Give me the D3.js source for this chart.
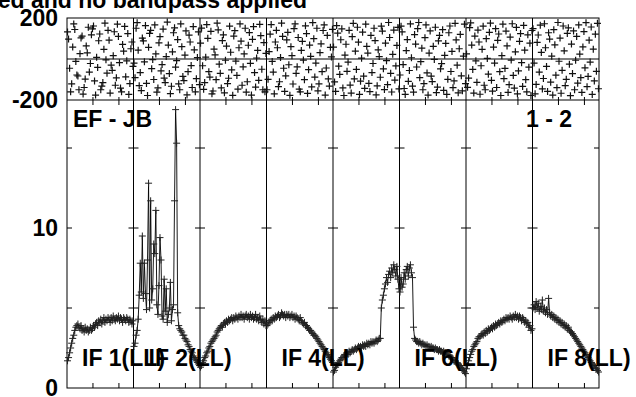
<!DOCTYPE html>
<html>
<head>
<meta charset="utf-8">
<script src="https://cdn.jsdelivr.net/npm/d3@7"></script>
<style>
  body { margin: 0; background: #fff; }
  svg text { font-family: "Liberation Sans", Arial, Helvetica, sans-serif; font-weight: bold; font-size: 23px; fill: #000; }
</style>
</head>
<body>
<div id="chart"></div>
<script>
// IF names, one panel per IF
const ifNames = ["IF 1", "IF 2", "IF 3", "IF 4", "IF 5", "IF 6", "IF 7", "IF 8"];
// the labels that are visible in the plot (others are overwritten)
const ifLabels = [
  {panel: "IF 1", text: "IF 1(LL)"},
  {panel: "IF 2", text: "IF 2(LL)"},
  {panel: "IF 4", text: "IF 4(LL)"},
  {panel: "IF 6", text: "IF 6(LL)"},
  {panel: "IF 8", text: "IF 8(LL)"}
];
const nChan = 64;
const chanTicks = [25, 50];
const ampTicks = [5, 10, 15];
const ampLabels = [0, 10];
const phaseLabels = [200, -200];
const baselineName = "EF - JB";
const stokesName = "1 - 2";
const titleText = "ed and no bandpass applied";

// amplitude per channel, one array per IF
const amp1 = [1.7,1.9,2.2,2.5,2.8,3.1,3.3,3.6,3.8,3.9,4.0,3.8,3.7,3.9,3.6,3.7,3.5,3.8,3.6,3.7,3.5,3.6,3.8,3.6,3.7,3.9,3.8,4.0,4.1,3.9,4.2,4.1,4.3,4.0,4.2,4.4,4.1,4.3,4.2,4.4,4.3,4.1,4.4,4.2,4.5,4.3,4.2,4.4,4.3,4.5,4.2,4.4,4.3,4.1,4.4,4.3,4.2,4.4,4.3,4.1,4.3,4.2,4.0,4.2];
const amp2 = [2.6,2.8,3.3,3.6,4.3,5.8,7.8,6.0,9.5,5.6,7.8,5.9,4.9,8.0,12.8,5.0,11.7,5.5,6.2,9.0,8.4,11.1,5.2,4.6,6.4,9.4,8.0,4.5,4.3,6.8,4.8,6.2,4.1,4.6,5.0,6.6,4.2,4.9,5.2,11.7,17.4,15.3,4.7,3.9,3.7,3.6,3.5,3.3,3.3,3.1,3.0,2.9,2.7,2.6,2.4,2.3,2.2,2.0,1.9,1.8,1.7,1.6,1.5,1.4];
const amp3 = [1.3,1.4,1.6,1.7,1.9,2.0,2.2,2.3,2.5,2.6,2.8,2.9,3.0,3.1,3.2,3.3,3.5,3.6,3.7,3.8,3.9,3.8,4.0,4.1,4.0,4.2,4.1,4.3,4.2,4.3,4.4,4.2,4.4,4.3,4.5,4.4,4.3,4.5,4.4,4.6,4.4,4.5,4.3,4.5,4.6,4.4,4.5,4.3,4.6,4.4,4.5,4.3,4.4,4.6,4.3,4.4,4.2,4.5,4.3,4.1,4.3,4.0,4.2,3.9];
const amp4 = [3.9,4.0,4.1,4.2,4.3,4.2,4.4,4.3,4.5,4.4,4.5,4.6,4.4,4.5,4.7,4.6,4.5,4.6,4.4,4.6,4.5,4.6,4.4,4.5,4.6,4.4,4.5,4.3,4.5,4.4,4.3,4.2,4.4,4.2,4.1,4.0,4.1,3.9,3.9,3.8,3.7,3.6,3.6,3.5,3.4,3.3,3.3,3.2,3.1,3.0,2.9,2.8,2.7,2.6,2.5,2.4,2.3,2.2,2.1,2.0,1.9,1.8,1.7,1.6];
const amp5 = [1.0,1.1,1.3,1.4,1.5,1.6,1.7,1.8,1.9,1.9,2.0,2.1,2.0,2.2,2.1,2.3,2.2,2.3,2.4,2.3,2.4,2.5,2.4,2.5,2.6,2.5,2.6,2.5,2.7,2.6,2.7,2.6,2.8,2.7,2.8,2.7,2.9,2.8,2.9,2.8,2.9,3.0,2.9,3.0,3.1,3.1,5.0,5.5,5.8,6.2,6.5,6.9,6.6,7.1,7.3,6.9,7.5,7.2,7.7,7.4,7.0,7.6,6.8,6.2];
const amp6 = [6.0,6.9,6.3,6.5,7.2,6.8,7.4,7.6,7.0,7.5,7.7,7.2,6.9,3.8,3.1,3.0,2.9,2.9,2.8,2.9,2.8,2.7,2.8,2.7,2.7,2.6,2.7,2.6,2.6,2.5,2.6,2.5,2.5,2.4,2.5,2.4,2.4,2.3,2.4,2.3,2.3,2.2,2.3,2.2,2.2,2.1,2.1,2.0,2.0,1.9,1.9,1.8,1.7,1.7,1.6,1.5,1.5,1.4,1.4,1.3,1.2,1.1,1.0,0.9];
const amp7 = [1.2,1.4,1.7,1.9,2.1,2.3,2.4,2.6,2.7,2.8,2.9,3.1,3.2,3.2,3.3,3.4,3.3,3.5,3.4,3.6,3.5,3.7,3.6,3.7,3.8,3.7,3.9,3.8,4.0,3.9,4.0,4.1,4.0,4.2,4.1,4.2,4.3,4.2,4.4,4.3,4.4,4.3,4.5,4.4,4.3,4.5,4.4,4.6,4.4,4.5,4.3,4.5,4.4,4.2,4.4,4.3,4.1,4.2,4.0,4.1,3.8,3.9,3.6,3.7];
const amp8 = [5.0,5.2,4.9,5.4,5.0,5.3,4.8,5.1,4.9,5.5,4.8,5.0,4.7,4.9,4.6,5.6,4.7,4.5,4.6,4.4,4.5,4.3,4.4,4.2,4.3,4.1,4.2,4.0,4.1,3.9,4.0,3.8,3.9,3.7,3.8,3.6,3.5,3.5,3.4,3.3,3.2,3.1,3.0,2.9,2.8,2.7,2.6,2.5,2.4,2.3,2.2,2.1,2.0,1.9,1.8,1.7,1.6,1.5,1.4,1.4,1.3,1.2,1.1,1.0];

// phase (degrees) per channel, one array per IF
const ph1 = [132,97,-45,-160,-121,58,171,144,-12,-78,-83,-150,26,103,112,-171,-139,-98,64,30,155,-64,-22,118,147,161,-107,-176,8,-41,89,122,-150,-132,-115,47,175,-4,-69,140,92,-166,-30,-55,16,133,-128,-92,170,110,-18,-142,-160,71,38,159,-87,-9,124,-173,-120,50,83,-36];
const ph2 = [-20,-91,150,177,43,-130,-66,-154,102,88,-14,163,-119,-178,57,125,140,-47,-3,-100,166,25,-162,-141,79,109,-58,-27,146,-93,-115,12,180,68,-71,-169,-133,35,128,152,-40,-8,95,-121,-150,171,60,-85,-105,19,137,-175,-62,116,83,-32,-139,158,45,-160,-96,7,132,-125];
const ph3 = [77,151,-33,-148,-115,9,168,101,-62,-88,135,-170,-156,48,20,-101,175,142,-25,-70,-141,90,118,-165,-6,63,-120,-94,160,33,-53,-177,112,138,-10,-80,-147,55,171,87,-128,-38,25,150,-162,-111,67,129,-21,-176,96,158,-66,-137,5,42,-104,169,114,-50,-150,80,-160,27];
const ph4 = [-150,-99,36,121,168,-12,-64,-170,83,140,55,-135,-111,7,175,110,-45,-158,-82,93,130,-28,-177,60,16,-122,148,171,-70,-38,105,-147,-160,42,86,-5,-101,162,124,-168,-52,68,13,-136,177,99,-88,-20,150,-155,-121,31,74,-62,139,166,-176,-44,115,-97,-132,57,10,145];
const ph5 = [58,-112,-158,163,126,-35,-75,94,147,-141,-178,19,72,-60,-15,140,-127,-166,109,174,-97,38,-51,155,82,-173,-108,4,131,-84,-143,170,62,29,-119,-159,115,-66,-22,150,90,-175,-131,45,12,-89,160,136,-48,-149,77,-8,-125,178,105,-70,-161,23,141,-103,-34,66,154,-146];
const ph6 = [-78,160,132,-27,-144,-173,41,95,-109,-56,171,6,-132,-162,119,73,-39,148,178,-91,-13,53,-150,-120,104,166,-68,-176,29,137,-84,-110,62,-2,155,-164,-137,88,115,-48,-23,143,-153,18,76,-173,-99,128,161,-61,37,-140,-107,174,93,-30,-165,50,120,-82,-155,14,170,-120];
const ph7 = [25,-138,-93,153,176,68,-51,-166,112,-9,-114,141,83,-172,-33,47,160,-128,-150,99,3,-74,130,175,-104,-157,58,-20,148,-139,91,122,-62,-178,16,170,-96,-46,136,64,-163,-125,107,-5,172,-80,-142,35,154,-170,-58,86,124,-18,-134,164,43,-101,-160,118,-40,77,-178,139];
const ph8 = [148,-20,-170,-124,81,117,-64,165,32,-146,-95,172,55,-36,-158,128,97,-113,14,-176,143,69,-79,-140,178,-11,102,-167,-55,161,40,-130,-99,125,152,-25,-179,73,-71,137,-150,-6,110,-118,166,24,-91,-163,59,134,-43,177,-135,-85,92,-15,156,-173,48,-107,121,-60,174,-145];

const ampData = [amp1, amp2, amp3, amp4, amp5, amp6, amp7, amp8];
const phData = [ph1, ph2, ph3, ph4, ph5, ph6, ph7, ph8];

// frame
const W = 636, H = 397;
const plotLeft = 67, plotRight = 599, plotTop = 18, plotMid = 100, plotBottom = 388;

const svg = d3.select("#chart").append("svg")
  .attr("width", W).attr("height", H);

const xPanel = d3.scaleBand().domain(ifNames).range([plotLeft, plotRight]).padding(0);
const xChan = d3.scaleLinear().domain([0.5, nChan + 0.5]).range([0, xPanel.bandwidth()]);
const yAmp = d3.scaleLinear().domain([0, 18]).range([plotBottom, plotMid]);
const yPh = d3.scaleLinear().domain([-200, 200]).range([plotMid, plotTop]);

const plus = "M-3.5,0H3.5M0,-3.5V3.5";

// panel boxes
const frame = svg.append("g").attr("stroke", "#000").attr("fill", "none");
frame.append("rect").attr("x", plotLeft).attr("y", plotTop)
  .attr("width", plotRight - plotLeft).attr("height", plotBottom - plotTop);
frame.append("line").attr("x1", plotLeft).attr("x2", plotRight).attr("y1", plotMid).attr("y2", plotMid);
frame.append("line").attr("x1", plotLeft).attr("x2", plotRight).attr("y1", yPh(0)).attr("y2", yPh(0));
frame.selectAll(".div").data(ifNames.slice(1)).join("line")
  .attr("x1", d => xPanel(d)).attr("x2", d => xPanel(d))
  .attr("y1", plotTop).attr("y2", plotBottom);

// channel ticks per panel
ifNames.forEach(name => {
  const g = svg.append("g").attr("transform", `translate(${xPanel(name)},0)`);
  g.append("g").attr("transform", `translate(0,${plotBottom})`)
    .call(d3.axisBottom(xChan).tickValues(chanTicks).tickFormat("").tickSize(-5).tickSizeOuter(0))
    .call(s => s.select(".domain").remove());
  g.append("g").attr("transform", `translate(0,${plotMid})`)
    .call(d3.axisTop(xChan).tickValues(chanTicks).tickFormat("").tickSize(-5).tickSizeOuter(0))
    .call(s => s.select(".domain").remove());
  g.append("g").attr("transform", `translate(0,${plotMid})`)
    .call(d3.axisTop(xChan).tickValues(chanTicks).tickFormat("").tickSize(3).tickSizeOuter(0))
    .call(s => s.select(".domain").remove());
});
svg.selectAll(".tick line").attr("stroke", "#000");

// amplitude ticks crossing the panel dividers
const bounds = ifNames.map(d => xPanel(d)).concat([plotRight]);
bounds.forEach(bx => {
  svg.append("g").selectAll("line").data(ampTicks).join("line")
    .attr("x1", Math.max(plotLeft, bx - 5)).attr("x2", Math.min(plotRight, bx + 5))
    .attr("y1", d => yAmp(d)).attr("y2", d => yAmp(d))
    .attr("stroke", "#000");
});

// amplitude lines + markers
ampData.forEach((arr, i) => {
  const g = svg.append("g").attr("transform", `translate(${xPanel(ifNames[i])},0)`);
  const line = d3.line().x((d, j) => xChan(j + 1)).y(d => yAmp(d));
  g.append("path").datum(arr).attr("d", line)
    .attr("fill", "none").attr("stroke", "#000").attr("stroke-width", 0.9);
  g.selectAll("path.m").data(arr).join("path").attr("class", "m")
    .attr("d", plus)
    .attr("transform", (d, j) => `translate(${xChan(j + 1)},${yAmp(d)})`)
    .attr("stroke", "#222").attr("stroke-width", 1).attr("fill", "none");
});

// phase markers
phData.forEach((arr, i) => {
  svg.append("g").attr("transform", `translate(${xPanel(ifNames[i])},0)`)
    .selectAll("path").data(arr).join("path")
    .attr("d", plus)
    .attr("transform", (d, j) => `translate(${xChan(j + 1)},${yPh(d)})`)
    .attr("stroke", "#111").attr("stroke-width", 1.2).attr("fill", "none");
});

// axis labels
svg.selectAll(".ph-lab").data(phaseLabels).join("text").attr("class", "ph-lab")
  .attr("x", 58).attr("y", d => yPh(d) + 8)
  .attr("text-anchor", "end").text(d => d);
svg.selectAll(".amp-lab").data(ampLabels).join("text").attr("class", "amp-lab")
  .attr("x", 58).attr("y", d => yAmp(d) + 8)
  .attr("text-anchor", "end").text(d => d);

// IF labels
svg.selectAll(".if-lab").data(ifLabels).join("text").attr("class", "if-lab")
  .attr("x", d => xPanel(d.panel) + 15).attr("y", 366)
  .text(d => d.text);

svg.append("text").attr("x", 73).attr("y", 127).text(baselineName);
svg.append("text").attr("x", 572).attr("y", 127).attr("text-anchor", "end").text(stokesName);
svg.append("text").attr("x", 307).attr("y", 8).attr("text-anchor", "end").text(titleText);
</script>
</body>
</html>
